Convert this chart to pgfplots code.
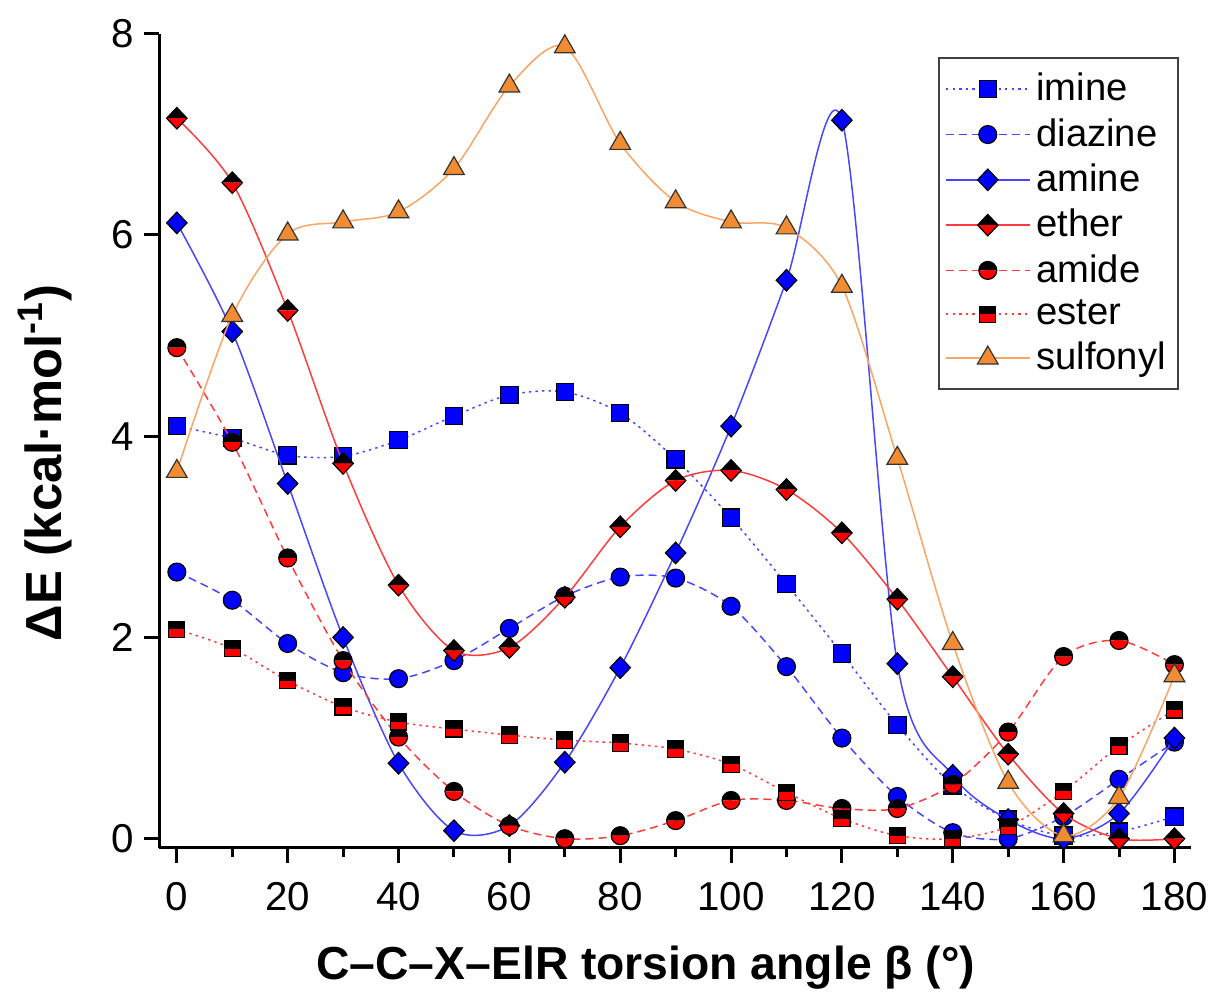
\documentclass[border=0pt]{standalone}
\usepackage{fontspec}
\setmainfont{Liberation Sans}
\usepackage{pgfplots}
\pgfplotsset{compat=1.18}
\usetikzlibrary{plotmarks}

\definecolor{mblue}{RGB}{0,0,255}
\definecolor{lblue}{RGB}{70,70,255}
\definecolor{lred}{RGB}{255,60,60}
\definecolor{morange}{RGB}{242,140,50}
\definecolor{lorange}{RGB}{250,165,100}

% filled diamond, a bit narrower than tall
\pgfdeclareplotmark{fdiamond}{%
  \pgfpathmoveto{\pgfqpoint{0pt}{\pgfplotmarksize}}%
  \pgfpathlineto{\pgfqpoint{0.95\pgfplotmarksize}{0pt}}%
  \pgfpathlineto{\pgfqpoint{0pt}{-\pgfplotmarksize}}%
  \pgfpathlineto{\pgfqpoint{-0.95\pgfplotmarksize}{0pt}}%
  \pgfpathclose
  \pgfusepathqfillstroke}
% half black / half red marks
\pgfdeclareplotmark{hdiamond}{%
  \pgfsetfillcolor{black}%
  \pgfpathmoveto{\pgfqpoint{-0.95\pgfplotmarksize}{0pt}}%
  \pgfpathlineto{\pgfqpoint{0pt}{\pgfplotmarksize}}%
  \pgfpathlineto{\pgfqpoint{0.95\pgfplotmarksize}{0pt}}%
  \pgfpathclose\pgfusepathqfill
  \pgfsetfillcolor{red}%
  \pgfpathmoveto{\pgfqpoint{-0.95\pgfplotmarksize}{0pt}}%
  \pgfpathlineto{\pgfqpoint{0pt}{-\pgfplotmarksize}}%
  \pgfpathlineto{\pgfqpoint{0.95\pgfplotmarksize}{0pt}}%
  \pgfpathclose\pgfusepathqfill
  \pgfsetstrokecolor{black}%
  \pgfpathmoveto{\pgfqpoint{0pt}{\pgfplotmarksize}}%
  \pgfpathlineto{\pgfqpoint{0.95\pgfplotmarksize}{0pt}}%
  \pgfpathlineto{\pgfqpoint{0pt}{-\pgfplotmarksize}}%
  \pgfpathlineto{\pgfqpoint{-0.95\pgfplotmarksize}{0pt}}%
  \pgfpathclose\pgfusepathqstroke}
\pgfdeclareplotmark{hcircle}{%
  \pgfsetfillcolor{black}%
  \pgfpathmoveto{\pgfqpoint{\pgfplotmarksize}{0pt}}%
  \pgfpatharc{0}{180}{\pgfplotmarksize}%
  \pgfpathclose\pgfusepathqfill
  \pgfsetfillcolor{red}%
  \pgfpathmoveto{\pgfqpoint{-\pgfplotmarksize}{0pt}}%
  \pgfpatharc{180}{360}{\pgfplotmarksize}%
  \pgfpathclose\pgfusepathqfill
  \pgfsetstrokecolor{black}%
  \pgfpathcircle{\pgfpointorigin}{\pgfplotmarksize}\pgfusepathqstroke}
\pgfdeclareplotmark{hsquare}{%
  \pgfsetfillcolor{black}%
  \pgfpathrectangle{\pgfqpoint{-\pgfplotmarksize}{0pt}}{\pgfqpoint{2\pgfplotmarksize}{\pgfplotmarksize}}%
  \pgfusepathqfill
  \pgfsetfillcolor{red}%
  \pgfpathrectangle{\pgfqpoint{-\pgfplotmarksize}{-\pgfplotmarksize}}{\pgfqpoint{2\pgfplotmarksize}{\pgfplotmarksize}}%
  \pgfusepathqfill
  \pgfsetstrokecolor{black}%
  \pgfpathrectangle{\pgfqpoint{-\pgfplotmarksize}{-\pgfplotmarksize}}{\pgfqpoint{2\pgfplotmarksize}{2\pgfplotmarksize}}%
  \pgfusepathqstroke}

\begin{document}
\begin{tikzpicture}
\begin{axis}[
    scale only axis,
    width=345.7pt, height=272.7pt,
    xmin=-3.2, xmax=183,
    ymin=-0.09, ymax=8,
    axis lines*=left,
    axis line style={line width=1pt},
    xtick={0,20,...,180},
    minor xtick={10,30,...,170},
    ytick={0,2,...,8},
    tick align=outside,
    major tick length=5pt,
    minor tick length=3pt,
    tick style={line width=1pt, black},
    tick label style={font=\fontsize{13.5}{16}\selectfont},
    xticklabel style={yshift=-3pt},
    /pgf/number format/assume math mode=true,
    xlabel={C–C–X–ElR torsion angle β (°)},
    ylabel={ΔE (kcal·mol\textsuperscript{-1})},
    xlabel style={font=\fontsize{15.5}{18}\selectfont\bfseries,
        at={(axis description cs:0.4716,-0.1613)}, anchor=base},
    ylabel style={font=\fontsize{17}{20}\selectfont\bfseries,
        at={(axis description cs:-0.1108,0.473)}, anchor=center},
    clip mode=individual,
    every axis plot/.append style={smooth, line width=0.5pt},
    legend image code/.code={%
        \draw[mark repeat=2,mark phase=2] plot coordinates {(0pt,0pt) (14pt,0pt) (28pt,0pt)};},
    legend style={at={(axis description cs:0.988,0.971)}, anchor=north east,
        draw=black!75, line width=0.6pt, fill=white,
        font=\fontsize{12.8}{14}\selectfont, row sep=0.4pt,
        inner xsep=2pt, inner ysep=3pt},
    legend cell align=left,
]
\coordinate (sw) at (rel axis cs:0,0);
\coordinate (ne) at (rel axis cs:1,1);

\addplot[color=lblue, dash pattern=on 0.8pt off 1.4pt, mark=square*, mark size=2.9pt,
    mark options={solid, fill=mblue, draw=black, line width=0.4pt}]
coordinates {(0,4.10)(10,3.98)(20,3.81)(30,3.80)(40,3.96)(50,4.20)(60,4.41)(70,4.44)(80,4.23)(90,3.77)
 (100,3.19)(110,2.53)(120,1.84)(130,1.13)(140,0.53)(150,0.19)(160,0.03)(170,0.07)(180,0.22)};
\addlegendentry{imine}

\addplot[color=lblue, dash pattern=on 2.7pt off 1.7pt, mark=*, mark size=3pt,
    mark options={solid, fill=mblue, draw=black, line width=0.4pt}]
coordinates {(0,2.65)(10,2.37)(20,1.94)(30,1.65)(40,1.59)(50,1.77)(60,2.09)(70,2.41)(80,2.60)(90,2.59)
 (100,2.31)(110,1.71)(120,1.00)(130,0.42)(140,0.06)(150,0.00)(160,0.22)(170,0.59)(180,0.96)};
\addlegendentry{diazine}

\addplot[color=lblue, solid, mark=fdiamond, mark size=3.6pt,
    mark options={solid, fill=mblue, draw=black, line width=0.4pt}]
coordinates {(0,6.12)(10,5.04)(20,3.53)(30,2.00)(40,0.75)(50,0.08)(60,0.13)(70,0.76)(80,1.70)(90,2.84)
 (100,4.10)(110,5.55)(120,7.14)(130,1.74)(140,0.63)(150,0.19)(160,0.00)(170,0.25)(180,1.00)};
\addlegendentry{amine}

\addplot[color=lred, solid, mark=hdiamond, mark size=3.6pt,
    mark options={solid, line width=0.4pt}]
coordinates {(0,7.16)(10,6.52)(20,5.25)(30,3.73)(40,2.52)(50,1.87)(60,1.90)(70,2.40)(80,3.10)(90,3.56)
 (100,3.66)(110,3.47)(120,3.04)(130,2.38)(140,1.61)(150,0.84)(160,0.25)(170,0.00)(180,0.00)};
\addlegendentry{ether}

\addplot[color=lred, dash pattern=on 2.7pt off 1.7pt, mark=hcircle, mark size=3pt,
    mark options={solid, line width=0.4pt}]
coordinates {(0,4.88)(10,3.94)(20,2.79)(30,1.77)(40,1.01)(50,0.47)(60,0.13)(70,0.00)(80,0.03)(90,0.18)
 (100,0.38)(110,0.38)(120,0.30)(130,0.30)(140,0.54)(150,1.06)(160,1.81)(170,1.97)(180,1.73)};
\addlegendentry{amide}

\addplot[color=lred, dash pattern=on 0.8pt off 1.4pt, mark=hsquare, mark size=2.7pt,
    mark options={solid, line width=0.4pt}]
coordinates {(0,2.08)(10,1.89)(20,1.57)(30,1.31)(40,1.16)(50,1.09)(60,1.03)(70,0.98)(80,0.95)(90,0.89)
 (100,0.74)(110,0.46)(120,0.20)(130,0.03)(140,0.00)(150,0.12)(160,0.47)(170,0.92)(180,1.28)};
\addlegendentry{ester}

\addplot[color=lorange, solid, mark=triangle*, mark size=4pt,
    mark options={solid, fill=morange, draw=black!80, line width=0.4pt}]
coordinates {(0,3.65)(10,5.20)(20,6.01)(30,6.13)(40,6.23)(50,6.66)(60,7.48)(70,7.87)(80,6.91)(90,6.33)
 (100,6.13)(110,6.07)(120,5.49)(130,3.78)(140,1.94)(150,0.56)(160,0.03)(170,0.41)(180,1.62)};
\addlegendentry{sulfonyl}
\end{axis}
\path ([shift={(-53.3pt,-47.7pt)}]sw) rectangle ([shift={(7pt,11.3pt)}]ne);
\end{tikzpicture}
\end{document}
